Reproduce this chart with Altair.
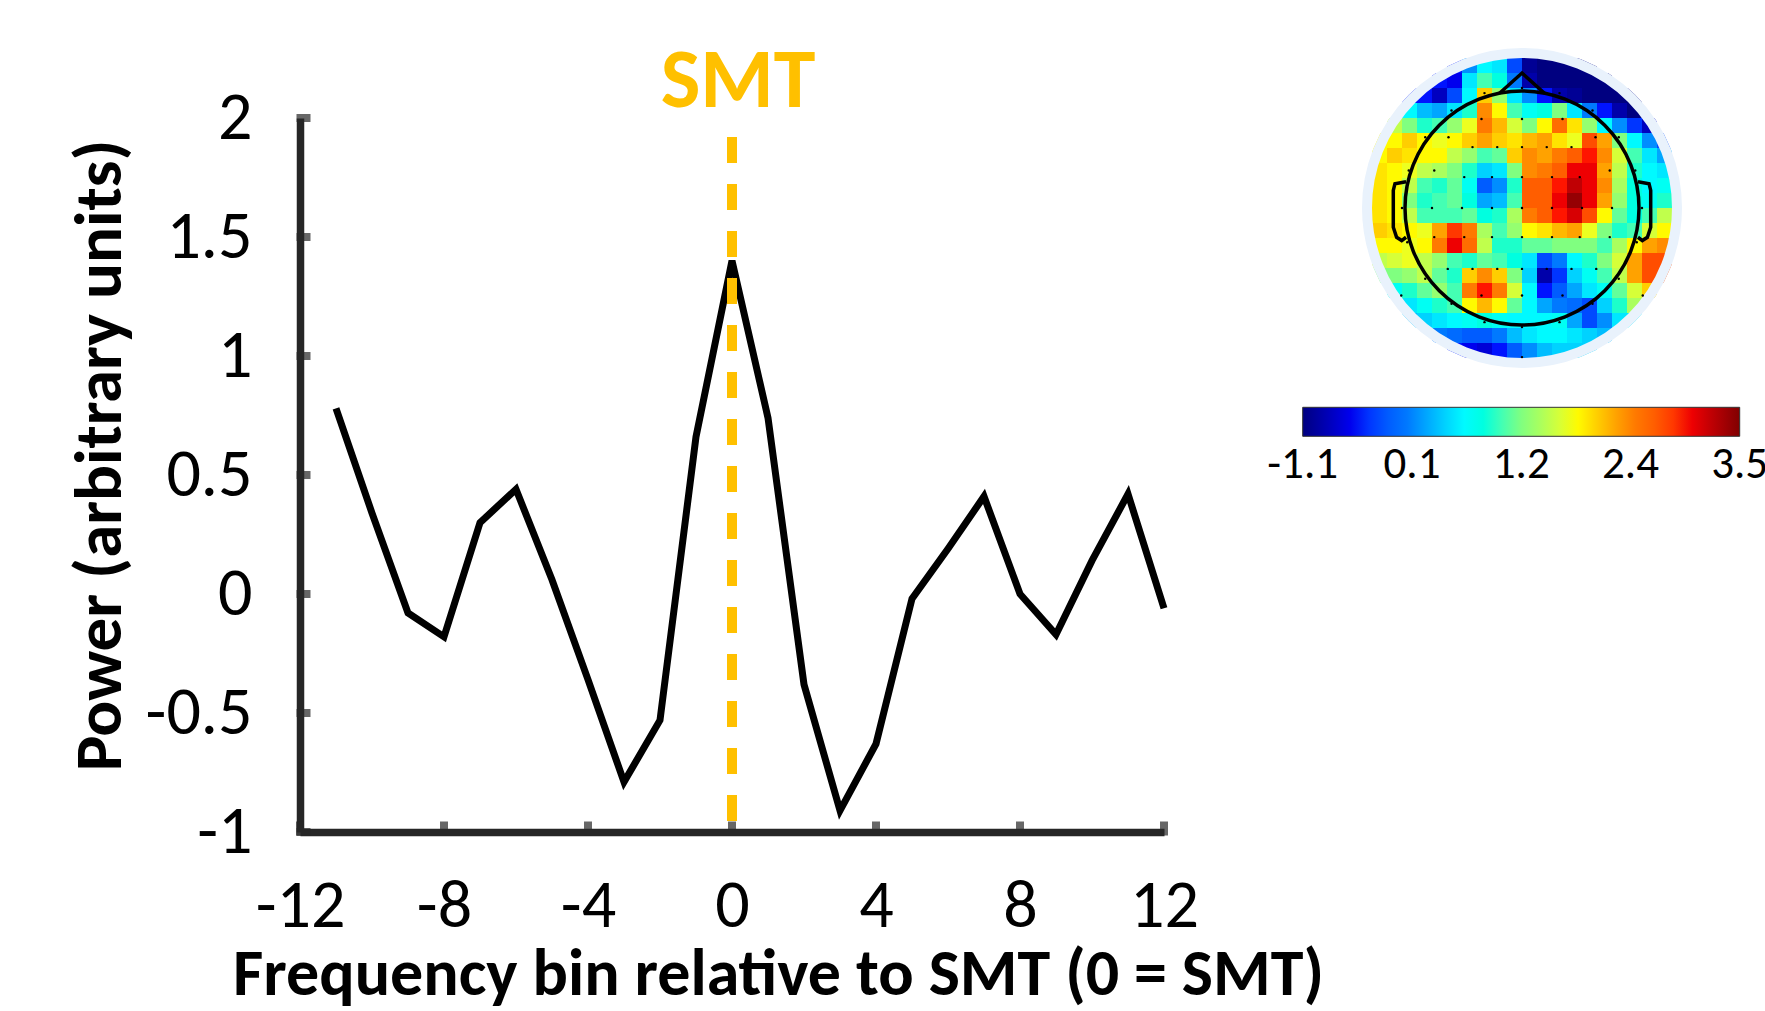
import altair as alt
import pandas as pd

FONT = "Carlito, Lato, sans-serif"

# ---------------- line chart data ----------------
bins = list(range(-11, 13))
power = [0.78, 0.34, -0.08, -0.18, 0.30, 0.44, 0.06, -0.36, -0.79, -0.53, 0.66, 1.40,
         0.74, -0.38, -0.91, -0.63, -0.02, 0.19, 0.41, 0.00, -0.17, 0.14, 0.42, -0.06]
x_ticks = [-12, -8, -4, 0, 4, 8, 12]
y_ticks = [-1, -0.5, 0, 0.5, 1, 1.5, 2]
smt_bin = [0]
smt_top = [1.92]
smt_bottom = [-1]
x_title = "Frequency bin relative to SMT (0 = SMT)"
y_title = "Power (arbitrary units)"
smt_label = "SMT"

# ---------------- topography data (20x20 grid, top row first) ----------------
topo_rows = [
    [-0.5, -0.5, -0.5, -0.5, -0.5, -0.5, 0.1, 0.6, 0.5, -0.3, -1.0, -1.1, -1.1, -1.1, -1.1, -1.1, -1.1, -1.1, -1.1, -1.1],
    [-0.5, -0.5, -0.5, -0.5, -0.5, -0.6, 0.5, 1.0, 0.8, 0.0, -0.9, -1.1, -1.1, -1.1, -1.1, -1.1, -1.1, -1.1, -1.1, -1.1],
    [-0.5, -0.5, -0.5, -0.5, -0.8, -0.3, 0.6, 2.0, 1.3, 0.5, 0.1, -0.5, -0.9, -1.0, -1.1, -1.1, -1.1, -1.1, -1.1, -1.1],
    [0.6, 0.6, 0.6, 0.3, 0.2, 0.5, 0.9, 2.3, 1.8, 1.0, 0.7, 0.8, 1.2, 0.5, 0.0, -0.5, -0.9, -1.1, -1.1, -1.1],
    [1.5, 1.5, 1.2, 0.9, 1.0, 1.3, 1.7, 2.4, 2.1, 1.6, 1.2, 1.8, 2.5, 1.9, 1.3, 0.6, 0.1, -0.4, -0.8, -0.9],
    [1.8, 1.8, 2.0, 1.8, 1.7, 1.8, 2.0, 2.2, 2.0, 1.9, 2.1, 2.2, 1.9, 1.7, 2.7, 2.2, 1.2, 0.6, 0.1, -0.3],
    [1.8, 2.0, 1.9, 1.8, 1.8, 1.5, 1.3, 1.0, 1.1, 2.0, 2.3, 2.2, 2.4, 2.6, 2.9, 2.3, 1.6, 1.0, 0.5, 0.2],
    [1.9, 1.8, 1.7, 1.5, 1.4, 1.2, 0.9, 0.4, 0.5, 1.2, 2.3, 2.4, 2.6, 3.0, 3.0, 2.2, 1.5, 0.9, 0.6, 0.5],
    [1.9, 1.8, 1.5, 1.0, 0.9, 1.1, 0.7, -0.2, 0.1, 0.9, 2.6, 2.6, 2.9, 3.2, 3.0, 2.3, 1.4, 0.8, 0.6, 0.7],
    [1.9, 1.8, 1.2, 0.9, 1.0, 1.1, 0.8, 0.2, 0.3, 1.0, 2.6, 2.6, 3.0, 3.4, 3.0, 2.2, 1.3, 0.8, 0.7, 0.9],
    [1.9, 1.8, 1.5, 1.0, 1.0, 1.0, 1.1, 0.8, 0.9, 1.4, 2.4, 2.6, 2.9, 3.1, 2.7, 1.8, 1.1, 0.8, 1.0, 1.5],
    [2.0, 1.9, 1.8, 1.7, 2.2, 2.8, 2.4, 1.4, 1.0, 1.3, 1.8, 1.9, 2.1, 2.2, 1.7, 1.2, 0.9, 1.0, 1.6, 1.8],
    [1.8, 1.8, 1.7, 1.8, 2.4, 3.0, 2.5, 1.5, 0.9, 0.9, 1.1, 1.1, 1.2, 1.2, 1.2, 1.0, 1.4, 1.8, 2.2, 2.3],
    [1.5, 1.6, 1.7, 1.5, 1.3, 1.0, 0.9, 1.1, 1.0, 0.8, 0.5, -0.3, 0.0, 0.6, 0.9, 1.2, 1.6, 2.2, 2.7, 2.7],
    [1.2, 1.2, 1.3, 1.5, 1.1, 0.9, 2.0, 2.3, 2.0, 1.2, 0.4, -0.9, -0.4, 0.4, 0.7, 1.0, 1.5, 2.2, 2.7, 2.7],
    [0.6, 0.7, 0.9, 1.1, 1.3, 1.0, 2.4, 2.9, 2.4, 1.6, 0.6, -0.5, -0.2, 0.2, 0.5, 0.7, 1.1, 1.6, 2.0, 2.0],
    [0.4, 0.4, 0.5, 0.7, 0.9, 1.0, 1.8, 2.1, 1.8, 1.1, 0.6, 0.2, 0.0, -0.1, -0.3, 0.4, 0.9, 1.4, 1.4, 1.4],
    [0.3, 0.3, 0.3, 0.4, 0.5, 0.6, 0.7, 0.8, 0.7, 0.6, 0.6, 0.6, 0.7, 0.2, -0.3, 0.1, 0.5, 0.5, 0.5, 0.5],
    [0.0, 0.0, 0.0, 0.0, 0.0, -0.1, -0.2, -0.2, 0.0, 0.3, 0.5, 0.6, 0.6, 0.5, 0.4, 0.3, 0.3, 0.3, 0.3, 0.3],
    [-0.5, -0.5, -0.5, -0.5, -0.5, -0.5, -0.6, -0.7, -0.5, -0.2, 0.1, 0.3, 0.4, 0.4, 0.4, 0.4, 0.4, 0.4, 0.4, 0.4],
]
# colour-bar tick values (ends nudged inside the range so their labels stay centred)
cbar_ticks = [-1.0999, 0.05, 1.2, 2.35, 3.4999]
jet_stops = [-1.1, -0.525, 0.05, 0.625, 1.2, 1.775, 2.35, 2.925, 3.5]
jet_colors = ["#000080", "#0000FF", "#0080FF", "#00FFFF", "#80FF80",
              "#FFFF00", "#FF8000", "#FF0000", "#800000"]

# electrode positions (head units)
elec_rows = [
    (0.80, [0.0]),
    (0.766, [-0.25, 0.25]),
    (0.65, [-0.47, 0.47]),
    (0.594, [-0.27, 0.0, 0.27]),
    (0.472, [-0.645, -0.49, 0.49, 0.645]),
    (0.406, [-0.33, -0.165, 0.0, 0.165, 0.33]),
    (0.25, [-0.755, -0.585, 0.585, 0.755]),
    (0.206, [-0.385, -0.2, 0.0, 0.2, 0.385]),
    (0.0, [-0.8, -0.6, -0.4, -0.2, 0.0, 0.2, 0.4, 0.6, 0.8]),
    (-0.194, [-0.585, -0.385, -0.2, 0.0, 0.2, 0.385, 0.585]),
    (-0.228, [-0.765, 0.765]),
    (-0.406, [-0.495, -0.33, -0.165, 0.0, 0.165, 0.33, 0.495]),
    (-0.472, [-0.645, 0.645]),
    (-0.583, [-0.805, -0.27, 0.0, 0.27, 0.805]),
    (-0.639, [-0.47, 0.47]),
    (-0.761, [-0.25, 0.25]),
    (-0.794, [0.0]),
    (-0.994, [0.0]),
]
nose_u = [-0.15, 0.0, 0.15]
nose_v = [0.765, 0.9, 0.765]
ear_u = [-0.773, -0.847, -0.858, -0.858, -0.836, -0.802, -0.773]
ear_v = [0.175, 0.162, 0.117, -0.128, -0.195, -0.217, -0.195]

# ---------------- line chart ----------------
W, H = 864, 714
PAD_L, PAD_T = 300, 118
xs = alt.Scale(domain=[-12, 12], nice=False, zero=False)
ys = alt.Scale(domain=[-1, 2], nice=False, zero=False)
AXC = "#262626"

df_line = pd.DataFrame({"bin": bins, "power": power})
line = alt.Chart(df_line).mark_line(color="black", strokeWidth=7).encode(
    x=alt.X("bin:Q", scale=xs, axis=alt.Axis(
        values=x_ticks, labelExpr="'' + datum.value", ticks=False, grid=False,
        domainColor=AXC, domainWidth=7.5, labelFont=FONT, labelFontSize=68,
        labelColor="black", labelPadding=40, labelFlush=False, labelOverlap=False,
        title=x_title, titleFont=FONT, titleFontSize=66, titleFontWeight="bold",
        titleColor="black", titleX=478, titleY=162, titleAlign="center",
        titleBaseline="alphabetic")),
    y=alt.Y("power:Q", scale=ys, axis=alt.Axis(
        values=y_ticks, labelExpr="'' + datum.value", ticks=False, grid=False,
        domainColor=AXC, domainWidth=7.5, labelFont=FONT, labelFontSize=68,
        labelColor="black", labelPadding=48, labelFlush=False, labelOverlap=False,
        title=y_title, titleFont=FONT, titleFontSize=67, titleFontWeight="bold",
        titleColor="black", titleX=-180, titleY=337, titleAlign="center",
        titleAngle=-90, titleBaseline="alphabetic")),
)

df_smt = pd.DataFrame({"bin": smt_bin, "power": smt_top, "bottom": smt_bottom})
rule = alt.Chart(df_smt).mark_rule(color="#FFC000", strokeWidth=10, strokeDash=[26, 21]).encode(
    x=alt.X("bin:Q", scale=xs),
    y=alt.Y("power:Q", scale=ys),
    y2="bottom:Q",
)
smt_text = alt.Chart(df_smt).mark_text(
    text=smt_label, font=FONT, fontSize=84, fontWeight="bold", color="#FFC000",
    baseline="alphabetic", align="center", dy=-11, dx=6).encode(
    x=alt.X("bin:Q", scale=xs),
    y=alt.datum(2),
)

df_xt = pd.DataFrame({"bin": x_ticks})
df_yt = pd.DataFrame({"power": y_ticks})
xtick_marks = alt.Chart(df_xt).mark_tick(orient="vertical", color=AXC, thickness=8,
                                         size=14, yOffset=-3.5).encode(
    x=alt.X("bin:Q", scale=xs), y=alt.datum(-1))
ytick_marks = alt.Chart(df_yt).mark_tick(orient="horizontal", color=AXC, thickness=8,
                                         size=14, xOffset=3.5).encode(
    y=alt.Y("power:Q", scale=ys), x=alt.datum(-12))

plot = alt.layer(line, xtick_marks, ytick_marks, rule, smt_text)

# ---------------- topography ----------------
CX, CY, R = 1522 - PAD_L, 208 - PAD_T, 150
mx = alt.Scale(domain=[-1, 1], range=[CX - R, CX + R], nice=False, zero=False)
my = alt.Scale(domain=[-1, 1], range=[CY + R, CY - R], nice=False, zero=False)
cscale = alt.Scale(domain=jet_stops, range=jet_colors, clamp=True)

n = len(topo_rows)
step = 2.0 / n
recs = []
for j, row in enumerate(topo_rows):
    for i, val in enumerate(row):
        u0 = -1 + i * step
        u1 = u0 + step
        v1 = 1 - j * step
        v0 = v1 - step
        nu = min(max(0.0, u0), u1)
        nv = min(max(0.0, v0), v1)
        if (nu * nu + nv * nv) ** 0.5 < 1.0:
            recs.append({"u0": u0, "u1": u1, "v0": v0, "v1": v1, "val": val})
df_cells = pd.DataFrame(recs)

cells = alt.Chart(df_cells).mark_rect().encode(
    x=alt.X("u0:Q", scale=mx, axis=None), x2="u1:Q",
    y=alt.Y("v0:Q", scale=my, axis=None), y2="v1:Q",
    color=alt.Color("val:Q", scale=cscale, legend=alt.Legend(
        type="gradient", orient="none", legendX=1302.7 - PAD_L, legendY=407.3 - PAD_T,
        direction="horizontal", gradientLength=437, gradientThickness=29,
        title=None, values=cbar_ticks,
        labelExpr="replace(format(datum.value, '.1f'), '\u2212', '-')",
        labelFont=FONT, labelFontSize=45, labelColor="black", labelAlign="center",
        labelOffset=6, labelOverlap=False, gradientStrokeColor="#333333",
        gradientStrokeWidth=1, padding=0, offset=0)),
)

df_c = pd.DataFrame({"u": [0.0], "v": [0.0]})
mask = alt.Chart(df_c).mark_point(shape="circle", filled=False, size=350 ** 2,
                                  strokeWidth=30, color="white", opacity=1).encode(
    x=alt.X("u:Q", scale=mx, axis=None), y=alt.Y("v:Q", scale=my, axis=None))
ring = alt.Chart(df_c).mark_point(shape="circle", filled=False, size=310 ** 2,
                                  strokeWidth=10, color="#E9F2FC", opacity=1).encode(
    x=alt.X("u:Q", scale=mx, axis=None), y=alt.Y("v:Q", scale=my, axis=None))
head = alt.Chart(df_c).mark_point(shape="circle", filled=False, size=234 ** 2,
                                  strokeWidth=3.5, color="black", opacity=1).encode(
    x=alt.X("u:Q", scale=mx, axis=None), y=alt.Y("v:Q", scale=my, axis=None))

outline_part = ["nose"] * len(nose_u) + ["ear_l"] * len(ear_u) + ["ear_r"] * len(ear_u)
outline_u = nose_u + ear_u + [-x for x in ear_u]
outline_v = nose_v + ear_v + ear_v
df_out = pd.DataFrame({"part": outline_part, "u": outline_u, "v": outline_v,
                       "k": list(range(len(outline_u)))})
outline = alt.Chart(df_out).mark_line(color="black", strokeWidth=3.5).encode(
    x=alt.X("u:Q", scale=mx, axis=None), y=alt.Y("v:Q", scale=my, axis=None),
    detail="part:N", order="k:Q")

eu, ev = [], []
for vv, us in elec_rows:
    for uu in us:
        eu.append(uu)
        ev.append(vv)
df_el = pd.DataFrame({"u": eu, "v": ev})
elec = alt.Chart(df_el).mark_circle(size=6, color="black", opacity=1).encode(
    x=alt.X("u:Q", scale=mx, axis=None), y=alt.Y("v:Q", scale=my, axis=None))

topo = alt.layer(cells, mask, ring, head, outline, elec)

chart = alt.layer(plot, topo).resolve_scale(
    x="independent", y="independent"
).properties(
    width=W, height=H, autosize=alt.AutoSizeParams(type="none"),
    padding={"left": PAD_L, "top": PAD_T, "right": 1765 - PAD_L - W,
             "bottom": 1011 - PAD_T - H},
).configure_view(stroke=None)

chart.save("out.html", embed_options={"renderer": "svg", "actions": False})
